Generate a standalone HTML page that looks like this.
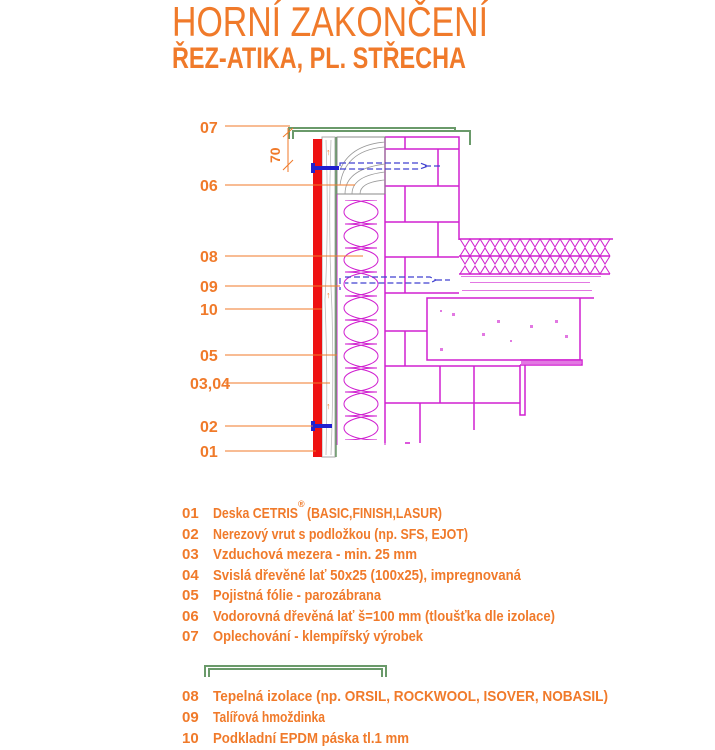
<!DOCTYPE html>
<html><head><meta charset="utf-8"><style>body{margin:0;background:#fff}svg{display:block}</style></head><body>
<svg width="715" height="750" viewBox="0 0 715 750" xmlns="http://www.w3.org/2000/svg" font-family="Liberation Sans, sans-serif">
<defs>
<pattern id="ins" patternUnits="userSpaceOnUse" x="337" y="200" width="48" height="24">
<path d="M8 0 C 52 0 52 24 8 24 M40 0 C -4 0 -4 24 40 24" stroke="#d020d0" stroke-width="1" fill="none"/>
</pattern>
</defs>
<g fill="#f07a2a">
<text x="172" y="36" font-size="42" textLength="316" lengthAdjust="spacingAndGlyphs">HORNÍ ZAKONČENÍ</text>
<text x="172" y="68" font-size="30" font-weight="bold" textLength="294" lengthAdjust="spacingAndGlyphs">ŘEZ-ATIKA, PL. STŘECHA</text>
</g>
<!-- masonry -->
<g stroke="#d020d0" stroke-width="1.5" fill="none">
<path d="M385 137 H459 V240"/>
<path d="M385 137 V443"/>
<path d="M385 149 H459 M385 186 H459 M385 222 H459 M385 257 H459 M385 293 H459 M385 331 H427 M385 366 H520 M385 403 H520"/>
<path d="M405 137 V149 M438 149 V186 M405 186 V222 M438 222 V257 M405 257 V293 M405 331 V366 M440 366 V403 M420 403 V443 M405 443 H410"/>
<path d="M459 239 H613 M459 256 H610 M459 274 H610 M459 298 H594 M427 298 H580 V360 H427 Z"/>
<path d="M520 365 V415 H525 V365 M520 360 H582 V365 H520"/>
<path d="M474 366 V430"/>
</g>
<!-- roof insulation -->
<g stroke="#d020d0" stroke-width="1" fill="none">
<path d="M460 239 l5 8 l5 -8 l5 8 l5 -8 l5 8 l5 -8 l5 8 l5 -8 l5 8 l5 -8 l5 8 l5 -8 l5 8 l5 -8 l5 8 l5 -8 l5 8 l5 -8 l5 8 l5 -8 l5 8 l5 -8 l5 8 l5 -8 l5 8 l5 -8 l5 8 l5 -8 l5 8 l5 -8"/>
<path d="M460 256 l5 -8 l5 8 l5 -8 l5 8 l5 -8 l5 8 l5 -8 l5 8 l5 -8 l5 8 l5 -8 l5 8 l5 -8 l5 8 l5 -8 l5 8 l5 -8 l5 8 l5 -8 l5 8 l5 -8 l5 8 l5 -8 l5 8 l5 -8 l5 8 l5 -8 l5 8 l5 -8 l5 8"/>
<path d="M460 256 l5 8 l5 -8 l5 8 l5 -8 l5 8 l5 -8 l5 8 l5 -8 l5 8 l5 -8 l5 8 l5 -8 l5 8 l5 -8 l5 8 l5 -8 l5 8 l5 -8 l5 8 l5 -8 l5 8 l5 -8 l5 8 l5 -8 l5 8 l5 -8 l5 8 l5 -8 l5 8 l5 -8"/>
<path d="M460 274 l5 -8 l5 8 l5 -8 l5 8 l5 -8 l5 8 l5 -8 l5 8 l5 -8 l5 8 l5 -8 l5 8 l5 -8 l5 8 l5 -8 l5 8 l5 -8 l5 8 l5 -8 l5 8 l5 -8 l5 8 l5 -8 l5 8 l5 -8 l5 8 l5 -8 l5 8 l5 -8 l5 8"/>
</g>
<g fill="#d020d0" opacity="0.6">
<rect x="461" y="276" width="140" height="1"/><rect x="470" y="282" width="120" height="1"/><rect x="462" y="290" width="130" height="1"/>
<rect x="440" y="310" width="2" height="2"/><rect x="452" y="313" width="3" height="3"/><rect x="497" y="320" width="3" height="3"/><rect x="530" y="325" width="3" height="3"/><rect x="555" y="320" width="3" height="3"/><rect x="482" y="333" width="3" height="3"/><rect x="510" y="340" width="2" height="2"/><rect x="565" y="335" width="3" height="3"/><rect x="440" y="348" width="3" height="3"/>
<rect x="521" y="361" width="60" height="3"/>
</g>
<!-- wood block -->
<rect x="337" y="137" width="48" height="57" fill="none" stroke="#888" stroke-width="1"/>
<g stroke="#999" stroke-width="0.8" fill="none">
<path d="M345 194 q0 -25 40 -30 M352 194 q0 -18 33 -22 M360 194 q0 -12 25 -14 M340 185 q5 -35 45 -38 M340 170 q10 -25 45 -28"/>
</g>
<!-- insulation -->
<path d="M337 194 V445 M385 194 V445" stroke="#d020d0" fill="none" stroke-width="1"/>
<rect x="338" y="200" width="46" height="240" fill="url(#ins)"/>
<!-- battens -->
<rect x="322" y="137" width="13" height="320" fill="none" stroke="#aaa" stroke-width="1"/>
<path d="M326 140 q3 80 -1 160 q3 80 1 155 M331 140 q-3 90 1 170 q2 70 -1 145" stroke="#bbb" fill="none" stroke-width="0.8"/>
<line x1="336" y1="137" x2="336" y2="457" stroke="#6a9a6a" stroke-width="1.5"/>
<!-- red panel -->
<rect x="313" y="139" width="9" height="318" fill="#ee1111"/>
<!-- screws -->
<rect x="313" y="166" width="26" height="4" fill="#2020d0"/><rect x="311" y="163" width="4" height="10" fill="#2020d0"/>
<rect x="313" y="424" width="19" height="4" fill="#2020d0"/><rect x="311" y="421" width="4" height="10" fill="#2020d0"/>
<g stroke="#4040d0" fill="none" stroke-width="1.2" stroke-dasharray="6 3">
<path d="M340 163 H420 l8 3 l-8 3 H340 Z M425 166 H440"/>
<path d="M340 278 V290 M345 277 H430 l6 3 l-6 3 H345 M436 280 H450"/>
</g>
<!-- green flashing -->
<path d="M289 139 V128 H455 V131 H470 V145 M293 139 V131 H455 M470 131 V141" stroke="#6a9a6a" stroke-width="2" fill="none"/>
<!-- dim -->
<path d="M283 137 L293 128 M283 170 L293 160 M288 128 V172" stroke="#f07a2a" stroke-width="1" fill="none"/>
<text x="0" y="0" font-size="14" font-weight="bold" fill="#f07a2a" transform="translate(280,163) rotate(-90)">70</text>
<!-- labels -->
<g fill="#f07a2a" font-size="16" font-weight="bold">
<text x="200" y="133">07</text><text x="200" y="191">06</text><text x="200" y="262">08</text><text x="200" y="292">09</text><text x="200" y="315">10</text><text x="200" y="361">05</text><text x="190" y="389">03,04</text><text x="200" y="432">02</text><text x="200" y="457">01</text>
</g>
<g stroke="#f07a2a" stroke-width="1">
<path d="M225 126 H290 M225 185 H355 M225 256 H363 M225 286 H340 M225 309 H322 M225 355 H337 M225 383 H330 M225 426 H313 M225 451 H316"/>
</g>
<g fill="#f07a2a" font-size="9">
<text x="326" y="155">↑</text><text x="326" y="298">↑</text><text x="326" y="409">↑</text>
</g>
<!-- legend -->
<g fill="#f07a2a" font-size="15" font-weight="bold">
<text x="182" y="518">01</text><text x="213" y="518" textLength="85" lengthAdjust="spacingAndGlyphs">Deska CETRIS</text><text x="298" y="507" font-size="9">®</text><text x="307" y="518" textLength="135" lengthAdjust="spacingAndGlyphs">(BASIC,FINISH,LASUR)</text>
<text x="182" y="539">02</text><text x="213" y="539" textLength="255" lengthAdjust="spacingAndGlyphs">Nerezový vrut s podložkou (np. SFS, EJOT)</text>
<text x="182" y="559">03</text><text x="213" y="559" textLength="204" lengthAdjust="spacingAndGlyphs">Vzduchová mezera - min. 25 mm</text>
<text x="182" y="580">04</text><text x="213" y="580" textLength="308" lengthAdjust="spacingAndGlyphs">Svislá dřevěné lať 50x25 (100x25), impregnovaná</text>
<text x="182" y="600">05</text><text x="213" y="600" textLength="168" lengthAdjust="spacingAndGlyphs">Pojistná fólie - parozábrana</text>
<text x="182" y="621">06</text><text x="213" y="621" textLength="342" lengthAdjust="spacingAndGlyphs">Vodorovná dřevěná lať š=100 mm (tloušťka dle izolace)</text>
<text x="182" y="641">07</text><text x="213" y="641" textLength="210" lengthAdjust="spacingAndGlyphs">Oplechování - klempířský výrobek</text>
<text x="182" y="701">08</text><text x="213" y="701" textLength="395" lengthAdjust="spacingAndGlyphs">Tepelná izolace (np. ORSIL, ROCKWOOL, ISOVER, NOBASIL)</text>
<text x="182" y="722">09</text><text x="213" y="722" textLength="112" lengthAdjust="spacingAndGlyphs">Talířová hmoždinka</text>
<text x="182" y="743">10</text><text x="213" y="743" textLength="196" lengthAdjust="spacingAndGlyphs">Podkladní EPDM páska tl.1 mm</text>
</g>
<path d="M205 677 V666 H386 V677 M209 677 V669 H382 V677" stroke="#6a9a6a" stroke-width="2" fill="none"/>
</svg>
</body></html>
